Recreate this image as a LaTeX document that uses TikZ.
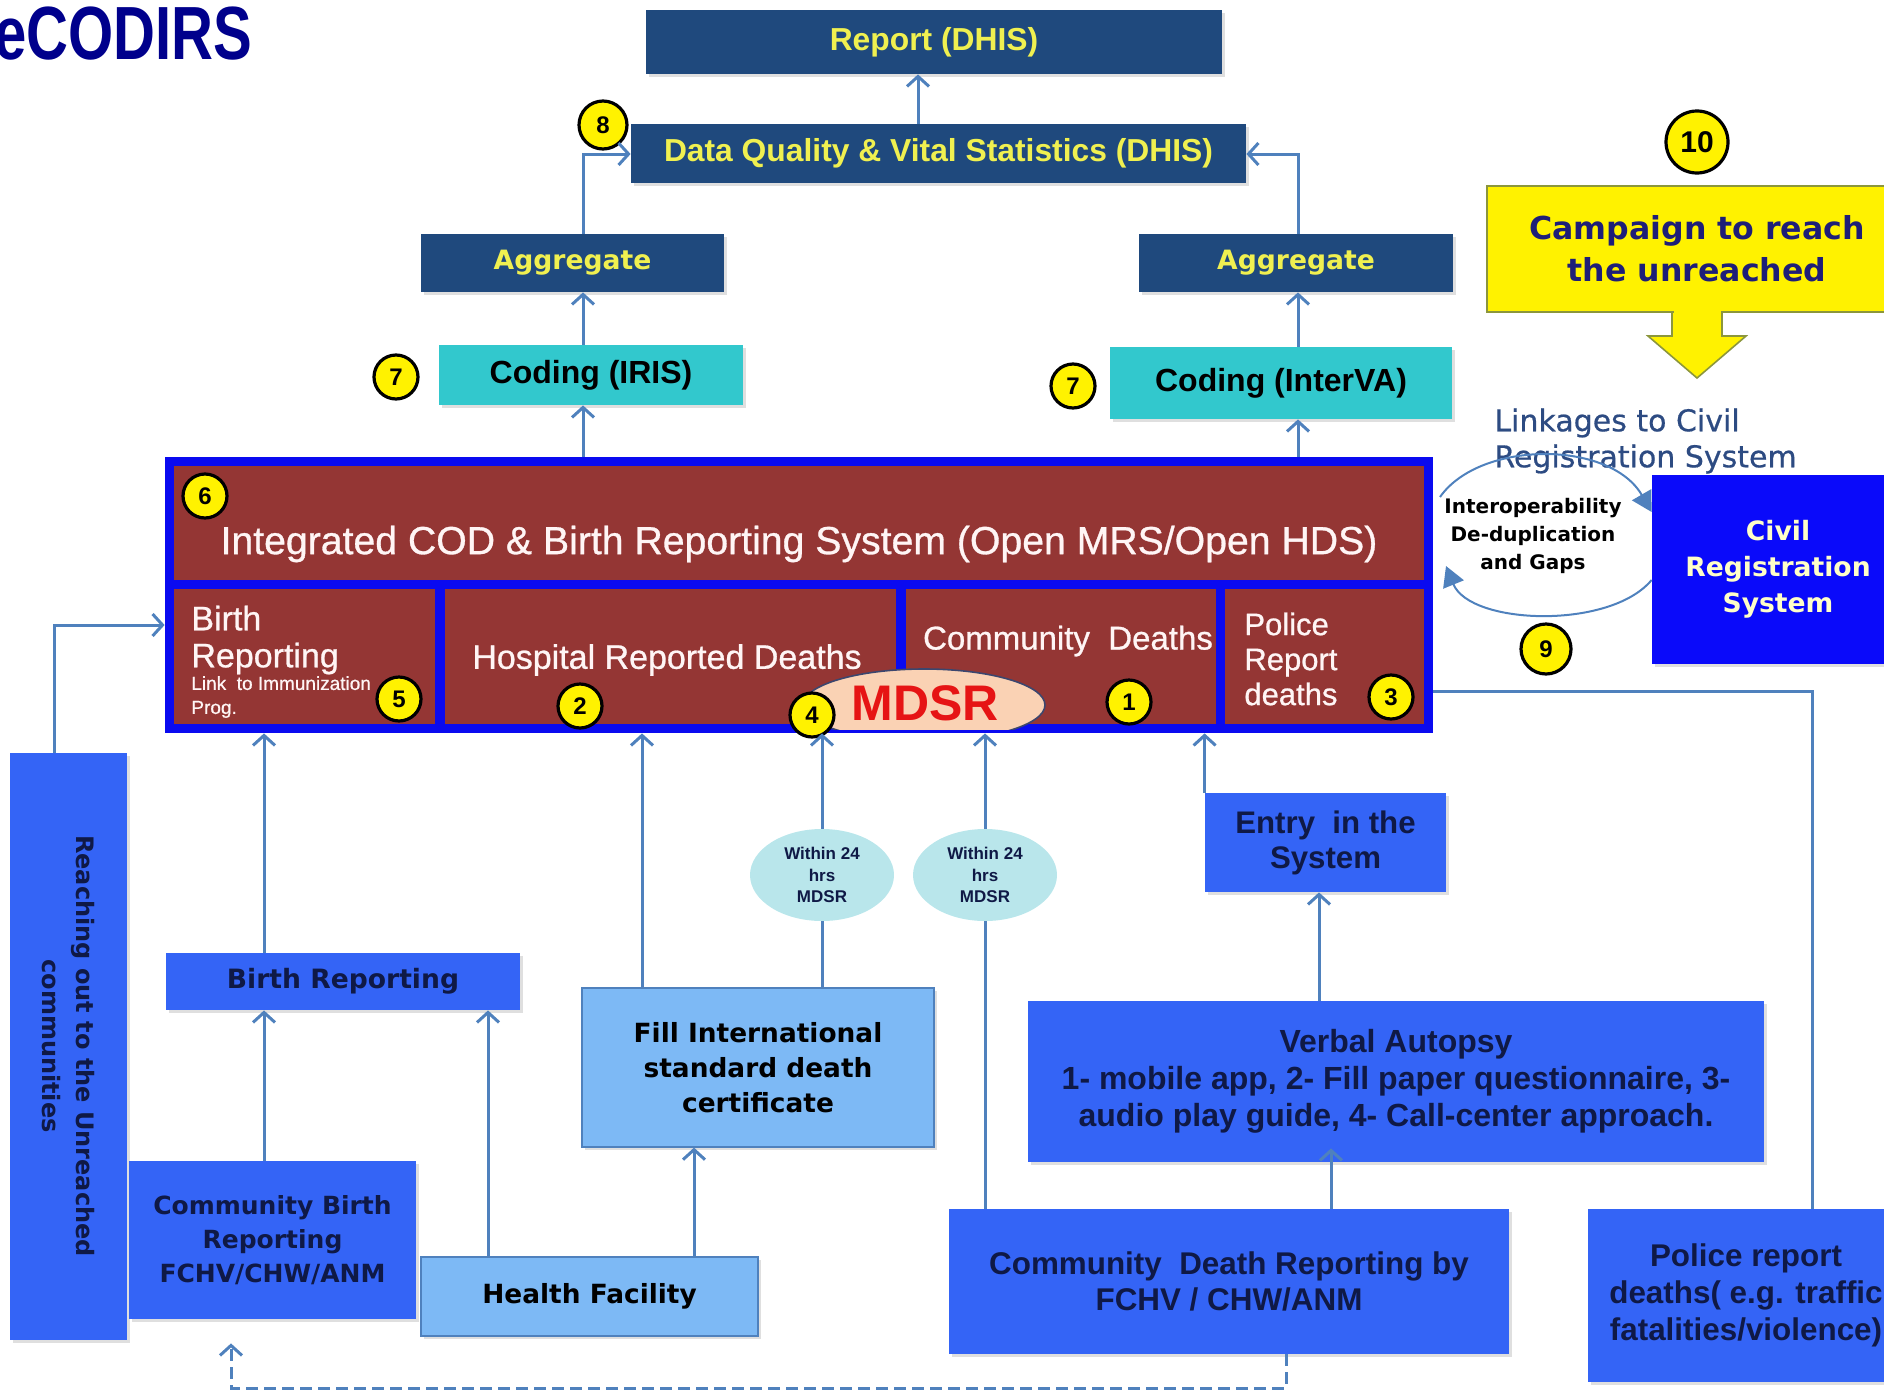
\documentclass[tikz,border=0pt]{standalone}
\usepackage{fontspec}
\setmainfont{Liberation Sans}
\newfontfamily\dvs{DejaVu Sans}
\newfontfamily\dvsmed[FakeBold=0.6]{DejaVu Sans}
\newfontfamily\medfont[FakeBold=0.8]{Liberation Sans}
\newfontfamily\narrowfont[FakeStretch=0.77]{Liberation Sans}
\usetikzlibrary{arrows.meta,shadows,calc,shapes.geometric}
\newcommand{\fsz}[2]{\fontsize{#1}{#2}\selectfont}
% \boxn{style}{x1}{y1}{x2}{y2}{name}{text}
\newcommand{\boxn}[7]{\node[#1, minimum width={(#4-#2)*0.5pt}, minimum height={(#5-#3)*0.5pt}] (#6) at ({(#2+#4)/2},{(#3+#5)/2}) {#7};}
\definecolor{navy}{RGB}{31,73,125}
\definecolor{ytext}{RGB}{240,240,80}
\definecolor{teal2}{RGB}{50,200,205}
\definecolor{dred}{RGB}{148,54,52}
\definecolor{bordblue}{RGB}{10,10,240}
\definecolor{medblue}{RGB}{52,100,246}
\definecolor{civblue}{RGB}{10,10,250}
\definecolor{lblue}{RGB}{125,185,245}
\definecolor{cyanell}{RGB}{185,230,235}
\definecolor{peach}{RGB}{250,210,180}
\definecolor{connc}{RGB}{79,129,189}
\definecolor{dtext}{RGB}{15,25,70}
\definecolor{camptext}{RGB}{30,30,120}
\definecolor{linktext}{RGB}{45,75,130}
\definecolor{civtext}{RGB}{255,255,200}
\definecolor{titlec}{RGB}{0,0,140}
\definecolor{wtext}{RGB}{255,245,245}
\definecolor{mdsrred}{RGB}{230,20,20}
\definecolor{campborder}{RGB}{140,150,60}
\begin{document}
\begin{tikzpicture}[x=0.5pt,y=-0.5pt,
  box/.style={inner sep=0pt, align=center, drop shadow={shadow xshift=1.5pt, shadow yshift=-1.5pt, opacity=0.25}},
  navybox/.style={box, fill=navy, text=ytext, font=\bfseries\fsz{15.9}{18}},
  aggbox/.style={navybox, font=\dvs\bfseries\fsz{13.3}{16}},
  tealbox/.style={box, fill=teal2, text=black, font=\bfseries\fsz{16}{18}},
  medbox/.style={box, fill=medblue, text=dtext},
  lbox/.style={box, fill=lblue, text=black, draw=connc, line width=0.6pt},
  redsec/.style={inner sep=0pt, fill=dred},
  wt/.style={text=wtext, inner sep=0pt, align=left},
  num/.style={circle, draw=black, line width=1.6pt, fill=yellow, inner sep=0pt, minimum size=22pt, font=\bfseries\fsz{12}{12}},
  ell/.style={ellipse, fill=cyanell, inner sep=0pt, minimum width=72pt, minimum height=46pt, align=center, text=dtext, font=\bfseries\fsz{8.5}{10.8}},
  conn/.style={draw=connc, line width=1.5pt},
  arr/.style={-{Straight Barb[length=5pt,width=11pt]}},
  carc/.style={draw=connc, line width=1pt, -{Triangle[length=10pt,width=11pt]}}
]
\useasboundingbox (0,0) rectangle (1884,1397);

% title
\node[anchor=base east, font=\narrowfont\bfseries\fsz{37.7}{40}, text=titlec, inner sep=0pt] (title) at (253,59) {eCODIRS};

% top boxes
\boxn{navybox}{646}{10}{1222}{74}{report}{Report (DHIS)}
\boxn{navybox}{631}{124}{1246}{183}{dq}{Data Quality \& Vital Statistics (DHIS)}
\boxn{aggbox}{421}{234}{724}{292}{aggL}{Aggregate}
\boxn{aggbox}{1139}{234}{1453}{292}{aggR}{Aggregate}
\boxn{tealbox}{439}{345}{743}{405}{codL}{Coding (IRIS)}
\boxn{tealbox}{1110}{347}{1452}{419}{codR}{Coding (InterVA)}

% campaign
\fill[yellow] (1672,310) -- (1672,336) -- (1648,336) -- (1697,378) -- (1746,336) -- (1722,336) -- (1722,310) -- cycle;
\draw[campborder, line width=0.8pt] (1672,313) -- (1672,336) -- (1648,336) -- (1697,378) -- (1746,336) -- (1722,336) -- (1722,313);
\boxn{inner sep=0pt, fill=yellow, draw=campborder, line width=0.8pt, align=center, text=camptext, font=\dvs\bfseries\fsz{15.8}{21}}{1487}{186}{1907}{312}{camp}{Campaign to reach\\the unreached}
\fill[yellow] (1673.5,309) rectangle (1720.5,316);
\node[num, minimum size=31pt, font=\bfseries\fsz{15}{15}] (n10) at (1697,142) {10};

% linkages
\node[anchor=west, align=left, inner sep=0pt, text=linktext, font=\dvsmed\fsz{15}{18}] (link) at (1494,441) {Linkages to Civil\\Registration System};
\boxn{box, fill=civblue, text=civtext, font=\dvs\bfseries\fsz{13.3}{18}}{1652}{475}{1904}{664}{civil}{Civil\\Registration\\System}
\node[align=center, inner sep=0pt, font=\dvs\bfseries\fsz{10}{14}] (interop) at (1533,536) {Interoperability\\De-duplication\\and Gaps};
\coordinate (a1) at (1440,497);
\coordinate (a2) at (1652,512);
\coordinate (b1) at (1652,580);
\coordinate (b2) at (1446,566);
\draw[carc] (a1) .. controls (1480,440) and (1610,440) .. (civil.west |- a2);
\draw[carc] (civil.west |- b1) .. controls (1610,630) and (1470,625) .. (b2);
\node[num, minimum size=25pt] (n9) at (1546,649) {9};

% integrated system
\boxn{inner sep=0pt, fill=bordblue}{165}{457}{1433}{733}{integ}{}
\boxn{redsec}{174}{466}{1424}{580}{stop}{}
\boxn{redsec}{174}{589}{435}{724}{sBirth}{}
\boxn{redsec}{445}{589}{896}{724}{sHosp}{}
\boxn{redsec}{906}{589}{1216}{724}{sComm}{}
\boxn{redsec}{1225}{589}{1424}{724}{sPol}{}
\node[wt, font=\medfont\fsz{19.6}{22}] (tInteg) at (799,544) {Integrated COD \& Birth Reporting System (Open MRS/Open HDS)};
\node[wt, anchor=west, font=\medfont\fsz{17}{18.5}] (tBirth) at (191,640) {Birth\\Reporting};
\node[wt, anchor=west, font=\medfont\fsz{9.5}{12}] (tLink) at (191,697) {Link\ \ to Immunization\\Prog.};
\node[wt, font=\medfont\fsz{17}{20}] (tHosp) at (667,660) {Hospital Reported Deaths};
\node[wt, font=\medfont\fsz{16.5}{20}] (tComm) at (1068,641) {Community\ \ Deaths};
\node[wt, anchor=west, font=\medfont\fsz{15.5}{17.5}] (tPol) at (1244,659) {Police\\Report\\deaths};
\begin{scope}
\clip (790,640) rectangle (1060,729);
\node[ellipse, fill=peach, draw={rgb,255:red,60;green,70;blue,110}, line width=0.8pt, minimum width=121pt, minimum height=36pt, inner sep=0pt] (mdsrE) at (924,705) {};
\end{scope}
\node[inner sep=0pt, text=mdsrred, font=\bfseries\fsz{25}{25}] (tMDSR) at (925,703) {MDSR};
\node[num] (n6) at (205,496) {6};
\node[num] (n5) at (399,699) {5};
\node[num] (n2) at (580,706) {2};
\node[num] (n4) at (812,715) {4};
\node[num] (n1) at (1129,702) {1};
\node[num] (n3) at (1391,697) {3};
\node[num, minimum size=24pt] (n8) at (603,125) {8};
\node[num] (n7a) at (396,377) {7};
\node[num] (n7b) at (1073,386) {7};

% top connectors
\coordinate (xk) at (583,0);
\coordinate (ydq) at (0,154);
\coordinate (xl) at (918,0);
\coordinate (xm) at (1298,0);
\draw[conn,arr] (integ.north -| xk) -- (codL.south -| xk);
\draw[conn,arr] (codL.north -| xk) -- (aggL.south -| xk);
\draw[conn,arr] (aggL.north -| xk) |- (dq.west |- ydq);
\draw[conn,arr] (dq.north -| xl) -- (report.south -| xl);
\draw[conn,arr] (integ.north -| xm) -- (codR.south -| xm);
\draw[conn,arr] (codR.north -| xm) -- (aggR.south -| xm);
\draw[conn,arr] (aggR.north -| xm) |- (dq.east |- ydq);

% lower boxes
\boxn{medbox}{10}{753}{127}{1340}{reach}{}
\node[rotate=-90, inner sep=0pt, font=\dvs\bfseries\fsz{12}{17}, text=dtext, align=center] (reachT) at (68,1046) {Reaching out to the Unreached\\communities};
\boxn{medbox, font=\dvs\bfseries\fsz{13.3}{16}}{166}{953}{520}{1010}{brep}{Birth Reporting}
\boxn{medbox, font=\dvs\bfseries\fsz{12.5}{17}}{129}{1161}{416}{1319}{cbr}{Community Birth\\Reporting\\FCHV/CHW/ANM}
\boxn{lbox, font=\dvs\bfseries\fsz{13.2}{16}}{421}{1257}{758}{1336}{hf}{Health Facility}
\boxn{lbox, font=\dvs\bfseries\fsz{13.2}{17.5}}{582}{988}{934}{1147}{fill}{Fill International\\standard death\\certificate}
\node[ell] (e1) at (822,875) {Within 24\\hrs\\MDSR};
\node[ell] (e2) at (985,875) {Within 24\\hrs\\MDSR};
\boxn{medbox, font=\bfseries\fsz{15.6}{17.5}}{1205}{793}{1446}{892}{entry}{Entry\ \ in the\\System}
\boxn{medbox, font=\bfseries\fsz{16}{18.6}}{1028}{1001}{1764}{1162}{va}{Verbal Autopsy\\1- mobile app, 2- Fill paper questionnaire, 3-\\audio play guide, 4- Call-center approach.}
\boxn{medbox, font=\bfseries\fsz{15.7}{18}}{949}{1209}{1509}{1354}{cdr}{Community\ \ Death Reporting by\\FCHV / CHW/ANM}
\boxn{medbox, font=\bfseries\fsz{15.7}{18.5}}{1588}{1209}{1904}{1382}{pol}{Police report\\deaths( e.g. traffic\\fatalities/violence)}

% lower connectors
\coordinate (c1) at (54,625);
\coordinate (xa) at (264,0);
\coordinate (xb) at (488,0);
\coordinate (xc) at (694,0);
\coordinate (xd) at (642,0);
\coordinate (xf) at (1319,0);
\coordinate (xg) at (1331,0);
\coordinate (xh) at (1812,0);
\coordinate (yp) at (0,691);
\coordinate (xi) at (1286,0);
\coordinate (xj) at (231,0);
\coordinate (yd) at (0,1388);
\draw[conn,arr] (reach.north -| c1) |- (integ.west |- c1);
\draw[conn,arr] (brep.north -| xa) -- (integ.south -| xa);
\draw[conn,arr] (cbr.north -| xa) -- (brep.south -| xa);
\draw[conn,arr] (hf.north -| xb) -- (brep.south -| xb);
\draw[conn,arr] (hf.north -| xc) -- (fill.south -| xc);
\draw[conn,arr] (fill.north -| xd) -- (integ.south -| xd);
\draw[conn] (fill.north -| e1) -- (e1.south);
\draw[conn,arr] (e1.north) -- (integ.south -| e1);
\draw[conn] (cdr.north -| e2) -- (e2.south);
\draw[conn,arr] (e2.north) -- (integ.south -| e2);
\draw[conn,arr] (entry.north west) -- (integ.south -| entry.north west);
\draw[conn,arr] (va.north -| xf) -- (entry.south -| xf);
\draw[conn,arr] (cdr.north -| xg) -- ($(va.south -| xg)+(0,-14)$);
\draw[conn] (pol.north -| xh) |- (integ.east |- yp);
\draw[conn,arr,dash pattern=on 6pt off 3pt] (cdr.south -| xi) -- (xi |- yd) -- (xj |- yd) -- ($(cbr.south -| xj)+(0,24)$);
\end{tikzpicture}
\end{document}
